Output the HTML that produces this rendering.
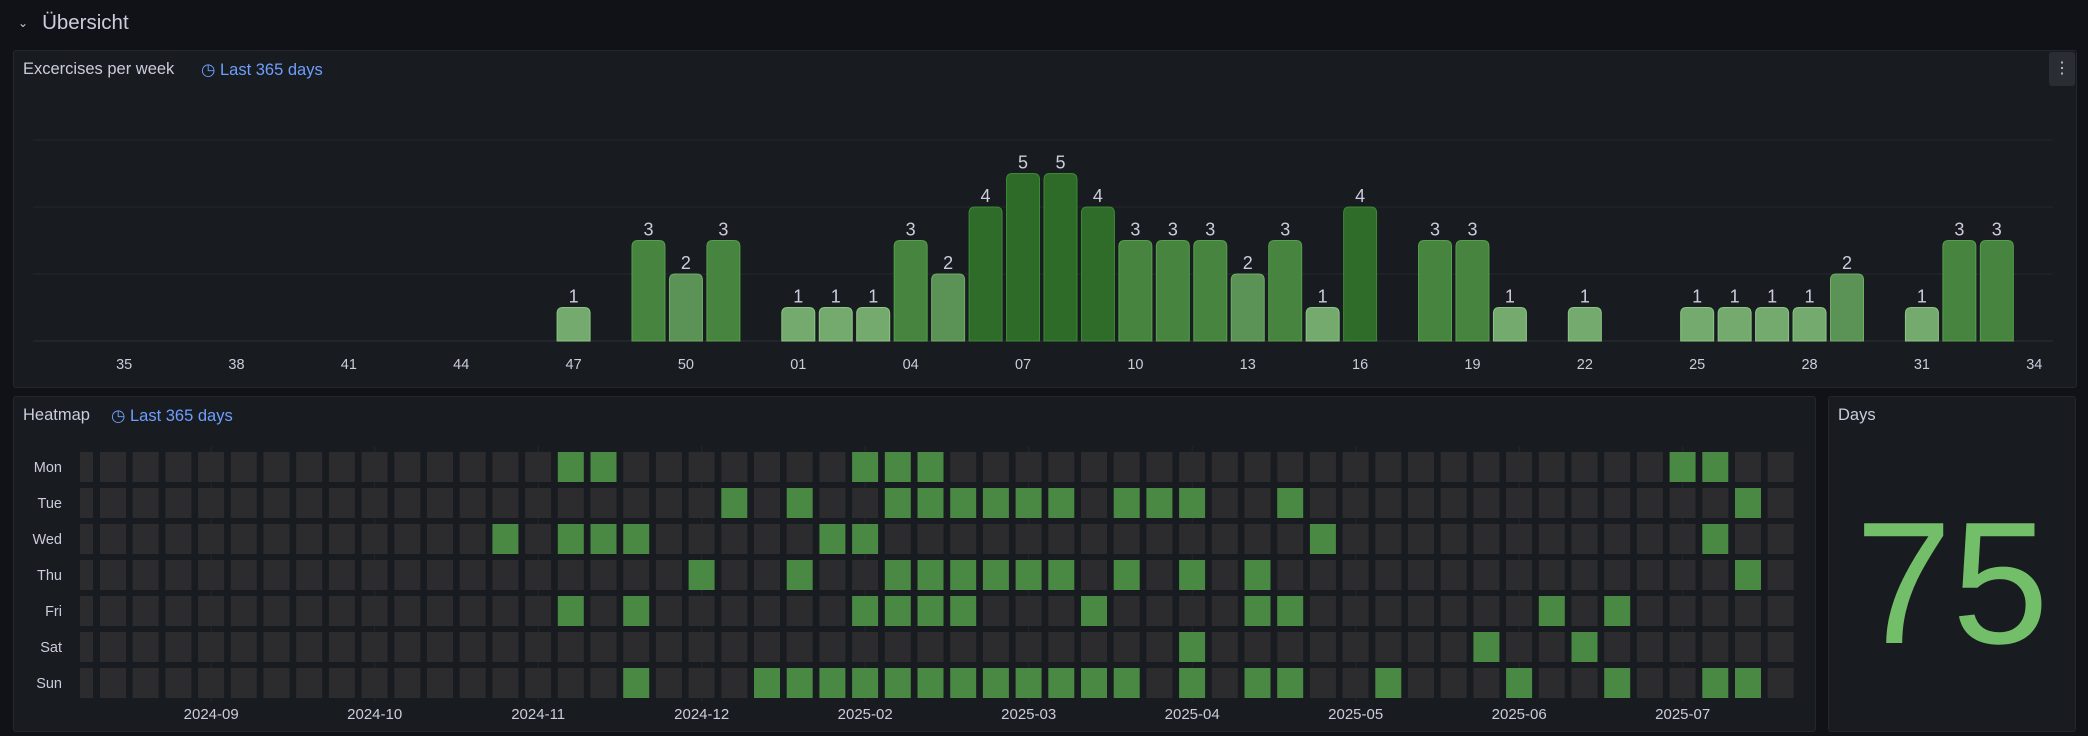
<!DOCTYPE html>
<html><head><meta charset="utf-8">
<style>
body{margin:0;width:2088px;height:736px;background:#111217;overflow:hidden;font-family:"Liberation Sans",sans-serif;color:#ccccdc;position:relative}
.panel{position:absolute;background:#181b1f;border:1px solid #24272e;border-radius:3px;box-sizing:border-box}
.t{position:absolute;font-size:16.5px;color:#ccccdc;white-space:nowrap}
.b{position:absolute;font-size:16.5px;color:#6e9fff;white-space:nowrap}
</style></head><body>
<div style="position:absolute;left:18px;top:11px;font-size:20.5px;color:#ccccdc"><span style="font-size:12px;margin-right:14px;display:inline-block;transform:translateY(-2px)">&#8964;</span>Übersicht</div>
<div class="panel" style="left:13px;top:50px;width:2064px;height:338px"></div>
<div class="t" style="left:23px;top:60px">Excercises per week</div>
<div class="b" style="left:201px;top:60px">&#9719; Last 365 days</div>
<div style="position:absolute;left:2049px;top:52px;width:26px;height:34px;background:#2a2d33;border-radius:3px;color:#ccccdc;text-align:center;line-height:34px;font-size:16px">&#8942;</div>
<div class="panel" style="left:13px;top:396px;width:1803px;height:336px"></div>
<div class="t" style="left:23px;top:406px">Heatmap</div>
<div class="b" style="left:111px;top:406px">&#9719; Last 365 days</div>
<div class="panel" style="left:1828px;top:396px;width:248px;height:336px"></div>
<div class="t" style="left:1838px;top:406px">Days</div>
<div style="position:absolute;left:1828px;width:248px;top:488px;text-align:center;font-size:174px;line-height:190px;color:#73bf69">75</div>
<svg id="s" width="2088" height="736" style="position:absolute;left:0;top:0"></svg>
<script>
const weeks=["33","34","35","36","37","38","39","40","41","42","43","44","45","46","47","48","49","50","51","52","01","02","03","04","05","06","07","08","09","10","11","12","13","14","15","16","17","18","19","20","21","22","23","24","25","26","27","28","29","30","31","32","33","34"];
const counts=[0,0,0,0,0,0,0,0,0,0,0,0,0,0,1,0,3,2,3,0,1,1,1,3,2,4,5,5,4,3,3,3,2,3,1,4,0,3,3,1,0,1,0,0,1,1,1,1,2,0,1,3,3,0];
const gridVals=[2,4,6];
const dayNames=["Mon","Tue","Wed","Thu","Fri","Sat","Sun"];
const activeMon=[14,15,23,24,25,48,49];
const activeTue=[19,21,24,25,26,27,28,29,31,32,33,36,50];
const activeWed=[12,14,15,16,22,23,37,49];
const activeThu=[18,21,24,25,26,27,28,29,31,33,35,50];
const activeFri=[14,16,23,24,25,26,30,35,36,44,46];
const activeSat=[33,42,45];
const activeSun=[16,20,21,22,23,24,25,26,27,28,29,30,31,33,35,36,39,43,46,49,50];
const monthLabels=["2024-09","2024-10","2024-11","2024-12","2025-02","2025-03","2025-04","2025-05","2025-06","2025-07"];
const monthPos=[3.4,8.4,13.4,18.4,23.4,28.4,33.4,38.4,43.4,48.4];
const weekCount=52;

const NS="http://www.w3.org/2000/svg",svg=document.getElementById('s');
function mk(t,a,p){const e=document.createElementNS(NS,t);for(const k in a)e.setAttribute(k,a[k]);(p||svg).appendChild(e);return e;}
const pL=30.5,pR=2053,base=341,unit=33.5,step=(pR-pL)/weeks.length;
const bx=i=>pL+(i+0.5)*step, by=v=>base-v*unit;
const gg=mk('g',{});
gridVals.forEach(v=>{const l=mk('line',{x1:33,x2:pR,y1:by(v),y2:by(v),stroke:'#24272d','stroke-width':1},gg);});
const bl=mk('line',{x1:33,x2:pR,y1:base,y2:base,stroke:'#2c2f35','stroke-width':1});

const fills=["",'#74aa6e','#5b9255','#46843f','#2f6c2a','#2e6b28'];
const strokes=["",'#8cc585','#6fae67','#56a04c','#3c8a35','#3c8a35'];
counts.forEach((v,i)=>{
  if(v>0){const w=33,x=bx(i)-w/2,y=by(v),r=6;
    const p=mk('path',{d:`M${x},${base}V${y+r}Q${x},${y} ${x+r},${y}H${x+w-r}Q${x+w},${y} ${x+w},${y+r}V${base}Z`,fill:fills[v],stroke:strokes[v],'stroke-width':1});
    
    const t=mk('text',{x:bx(i),y:y-5,'text-anchor':'middle','font-size':18,fill:'#ccccdc','font-family':'Liberation Sans'});t.textContent=v;
    }
  if((i-2)%3===0){const t=mk('text',{x:bx(i),y:369,'text-anchor':'middle','font-size':14.5,fill:'#ccccdc','font-family':'Liberation Sans'});t.textContent=weeks[i];
    }
});
const cx0=100,cstep=32.7,cw=26,ry0=452,rstep=36,ch=30;
const hx=c=>cx0+c*cstep, hy=r=>ry0+r*rstep;
monthPos.forEach((m,i)=>{const x=hx(m);const l=mk('line',{x1:x,x2:x,y1:446,y2:702,stroke:'#24272d'});
  const t=mk('text',{x:x,y:719,'text-anchor':'middle','font-size':15,fill:'#ccccdc','font-family':'Liberation Sans'});t.textContent=monthLabels[i];});
const actives=[activeMon,activeTue,activeWed,activeThu,activeFri,activeSat,activeSun];
dayNames.forEach((d,r)=>{
  const t=mk('text',{x:62,y:hy(r)+ch/2+5,'text-anchor':'end','font-size':14.5,fill:'#ccccdc','font-family':'Liberation Sans'});t.textContent=d;
  
  const pc=mk('rect',{x:80,y:hy(r),width:13,height:ch,fill:'#2c2c2e'});
  for(let c=0;c<weekCount;c++){const on=actives[r].includes(c);
    const e=mk('rect',{x:hx(c),y:hy(r),width:cw,height:ch,fill:on?'#4a8944':'#2c2c2e'});
    }
});
</script>
</body></html>
